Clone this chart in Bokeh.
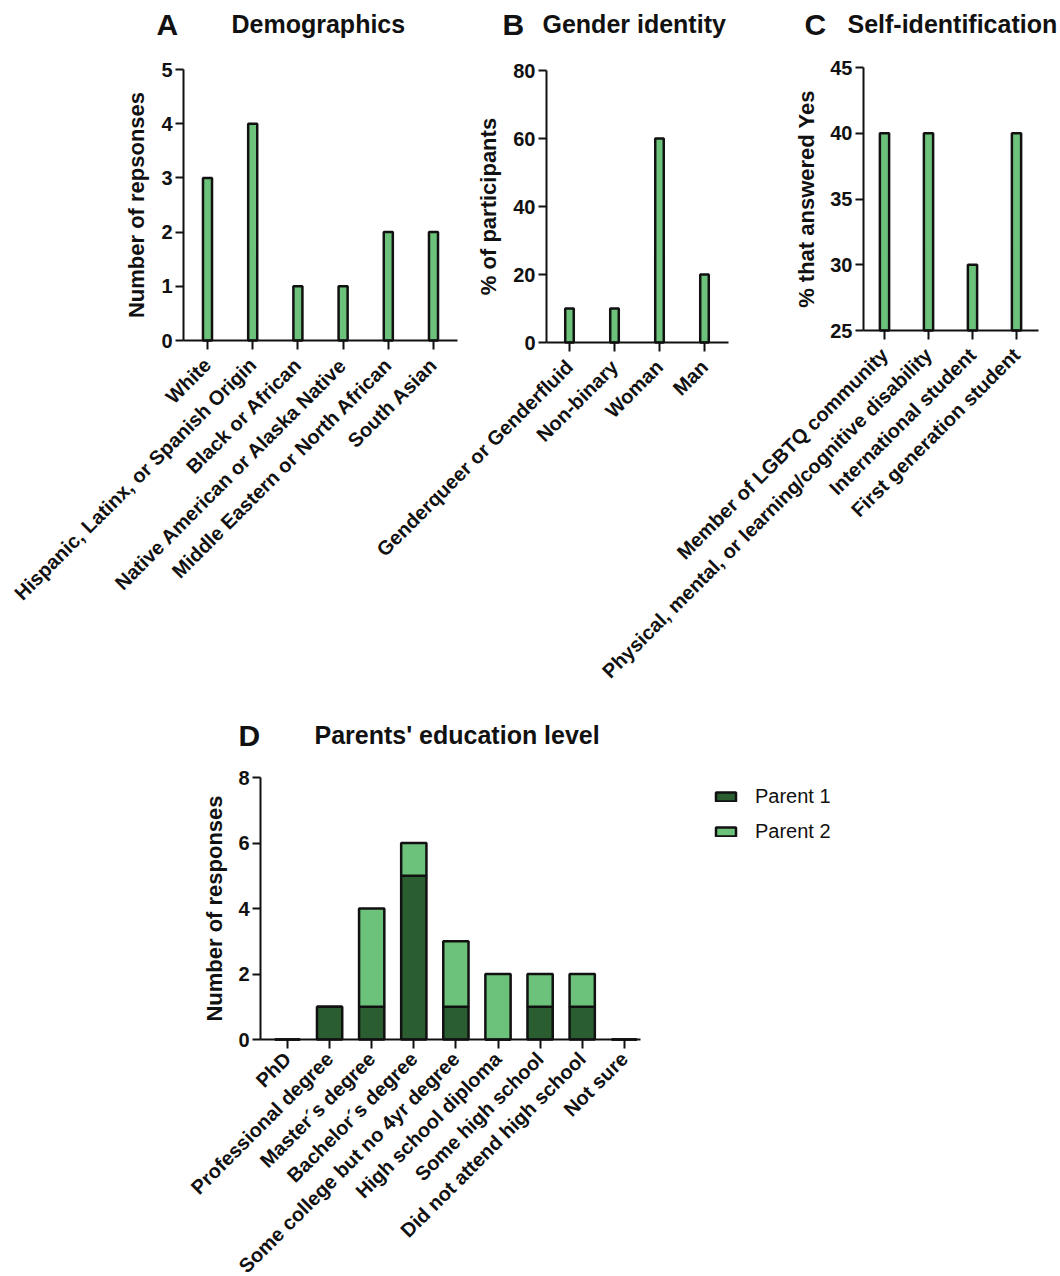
from math import pi

from bokeh.embed import file_html
from bokeh.models import (ColumnDataSource, FixedTicker, Label, Legend,
                          LegendItem, LinearAxis, Range1d)
from bokeh.plotting import figure
from bokeh.resources import INLINE

# ---------------- data ----------------
demo_cats = ["White", "Hispanic, Latinx, or Spanish Origin", "Black or African",
             "Native American or Alaska Native", "Middle Eastern or North African",
             "South Asian"]
demo_counts = [3, 4, 1, 1, 2, 2]

gender_cats = ["Genderqueer or Genderfluid", "Non-binary", "Woman", "Man"]
gender_pct = [10, 10, 60, 20]

selfid_cats = ["Member of LGBTQ community",
               "Physical, mental, or learning/cognitive disability",
               "International student", "First generation student"]
selfid_pct = [40, 40, 30, 40]

edu_cats = ["PhD", "Professional degree", "Master´s degree", "Bachelor´s degree",
            "Some college but no 4yr degree", "High school diploma",
            "Some high school", "Did not attend high school", "Not sure"]
edu_parent1 = [0, 1, 1, 5, 1, 0, 1, 1, 0]
edu_parent2 = [0, 0, 3, 1, 2, 2, 1, 1, 0]

# ---------------- style ----------------
W, H = 1060, 1276
FONT = "Liberation Sans"
INK = "#111111"
LIGHT = "#6cc27a"
DARK = "#2a5e30"

p = figure(width=W, height=H, x_range=Range1d(0, W), y_range=Range1d(H, 0),
           min_border=0, toolbar_location=None, output_backend="svg",
           x_axis_location=None, y_axis_location=None,
           outline_line_color=None, background_fill_color="white")
p.grid.grid_line_color = None


def panel(name, n, x0_px, step_px, left_px, right_px, base_px, top_px,
          vlo, vhi, yticks, labels, ylabel, ylabel_standoff, xlabel_standoff=12):
    """Set up the ranges and axes of one panel inside the shared canvas."""
    p.extra_x_ranges[name] = Range1d(-x0_px / step_px, (W - x0_px) / step_px)
    ppu = (base_px - top_px) / (vhi - vlo)
    p.extra_y_ranges[name] = Range1d(vlo - (H - base_px) / ppu, vhi + top_px / ppu)
    xl = (left_px - x0_px) / step_px
    xr = (right_px - x0_px) / step_px

    common = dict(x_range_name=name, y_range_name=name,
                  axis_line_width=2, axis_line_color=INK,
                  major_tick_line_width=2, major_tick_line_color=INK,
                  major_tick_in=0, minor_tick_line_color=None,
                  major_label_text_font=FONT, major_label_text_font_style="bold",
                  major_label_text_font_size="20px", major_label_text_color=INK)

    yax = LinearAxis(fixed_location=xl, bounds=(vlo, vhi),
                     ticker=FixedTicker(ticks=yticks), major_tick_out=8,
                     major_label_standoff=3,
                     axis_label=ylabel, axis_label_text_font=FONT,
                     axis_label_text_font_style="bold",
                     axis_label_text_font_size="22px",
                     axis_label_text_color=INK,
                     axis_label_standoff=ylabel_standoff, **common)
    p.add_layout(yax, "left")

    xax = LinearAxis(fixed_location=vlo, bounds=(xl, xr),
                     ticker=FixedTicker(ticks=list(range(n))), major_tick_out=9,
                     major_label_standoff=xlabel_standoff,
                     major_label_overrides={i: c for i, c in enumerate(labels)},
                     major_label_orientation=pi / 4, **common)
    p.add_layout(xax, "below")


# A: demographics
panel("A", len(demo_cats), 207, 45.2, 183, 457, 340, 69, 0, 5,
      [0, 1, 2, 3, 4, 5], demo_cats, "Number of repsonses", 9)
p.vbar(x=list(range(len(demo_cats))), top=demo_counts, bottom=0, width=0.2,
       fill_color=LIGHT, line_color=INK, line_width=2.5,
       x_range_name="A", y_range_name="A")

# B: gender identity
panel("B", len(gender_cats), 569, 45, 546, 728, 342, 70, 0, 80,
      [0, 20, 40, 60, 80], gender_cats, "% of participants", 9)
p.vbar(x=list(range(len(gender_cats))), top=gender_pct, bottom=0, width=0.19,
       fill_color=LIGHT, line_color=INK, line_width=2.5,
       x_range_name="B", y_range_name="B")

# C: self-identification (axis starts at 25)
C_LO, C_HI = 25, 45
panel("C", len(selfid_cats), 884, 44, 863, 1038, 330, 67, C_LO, C_HI,
      [25, 30, 35, 40, 45], selfid_cats, "% that answered Yes", 8)
p.vbar(x=list(range(len(selfid_cats))), top=selfid_pct, bottom=C_LO, width=0.21,
       fill_color=LIGHT, line_color=INK, line_width=2.5,
       x_range_name="C", y_range_name="C")

# D: parents' education, stacked
panel("D", len(edu_cats), 287, 42.1, 260, 640, 1039, 777, 0, 8,
      [0, 2, 4, 6, 8], edu_cats, "Number of responses", 8, xlabel_standoff=7)
edu_src = ColumnDataSource(dict(x=list(range(len(edu_cats))),
                                parent1=edu_parent1, parent2=edu_parent2))
stack = p.vbar_stack(["parent1", "parent2"], x="x", width=0.6, source=edu_src,
                     fill_color=[DARK, LIGHT], line_color=INK, line_width=2.5,
                     x_range_name="D", y_range_name="D")

legend = Legend(items=[LegendItem(label="Parent 1", renderers=[stack[0]]),
                       LegendItem(label="Parent 2", renderers=[stack[1]])],
                location=(713, H - 843), padding=0, margin=0, spacing=12,
                glyph_width=25, glyph_height=11, label_height=23,
                label_standoff=17, label_text_font=FONT,
                label_text_font_size="20px", label_text_color=INK,
                border_line_color=None, background_fill_alpha=0)
p.add_layout(legend)

# panel letters and titles
titles = [("A", 156, 24, "30px"), ("Demographics", 231, 23, "25px"),
          ("B", 502, 24, "30px"), ("Gender identity", 542, 23, "25px"),
          ("C", 804, 24, "30px"), ("Self-identification", 847, 23, "25px"),
          ("D", 238, 735, "30px"), ("Parents' education level", 314, 734, "25px")]
for txt, x, y, size in titles:
    p.add_layout(Label(x=x, y=y, text=txt, text_font=FONT, text_font_style="bold",
                       text_font_size=size, text_color=INK,
                       text_align="left", text_baseline="alphabetic"))

open("out.html", "w").write(file_html(p, INLINE))
